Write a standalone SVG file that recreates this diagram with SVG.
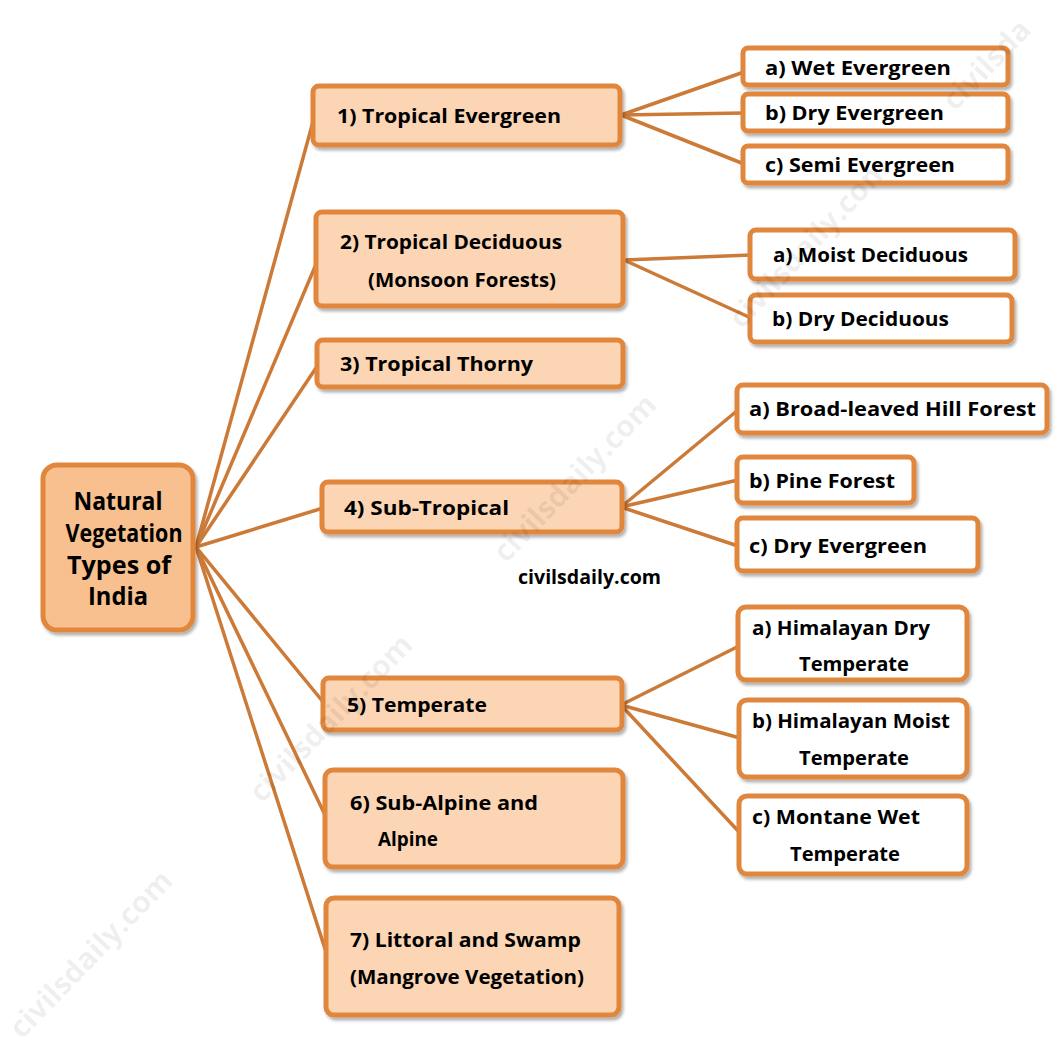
<svg xmlns="http://www.w3.org/2000/svg" width="1063" height="1060" viewBox="0 0 1063 1060">
<defs>
<filter id="sh" x="-10%" y="-10%" width="120%" height="130%">
<feDropShadow dx="2" dy="3" stdDeviation="1.5" flood-color="#000" flood-opacity="0.3"/>
</filter>
<style>
.root{fill:#F8C08E;stroke:#E0873D;stroke-width:5;filter:url(#sh)}
.l1{fill:#FBD5B4;stroke:#E0873D;stroke-width:5;filter:url(#sh)}
.l2{fill:#FFFFFF;stroke:#E0873D;stroke-width:5;filter:url(#sh)}
.t{font-family:"Open Sans","DejaVu Sans",sans-serif;font-weight:bold;font-size:20px;fill:#000}
.rt{font-family:"Open Sans","DejaVu Sans",sans-serif;font-weight:bold;font-size:25px;fill:#000;text-anchor:middle}
.conn line{stroke:#CC7A38;stroke-width:3.5;stroke-linecap:round}
.wm{font-family:"Open Sans","DejaVu Sans",sans-serif;font-weight:bold;font-size:30px;fill:#000;fill-opacity:0.07}
</style>
</defs>
<rect width="1063" height="1060" fill="#FFFFFF"/>

<g id="connectors" class="conn">
<line x1="196" y1="547" x2="314" y2="118"/>
<line x1="196" y1="547" x2="317" y2="262"/>
<line x1="196" y1="547" x2="318" y2="365"/>
<line x1="196" y1="547" x2="323" y2="508"/>
<line x1="196" y1="547" x2="324" y2="703"/>
<line x1="196" y1="547" x2="326" y2="817"/>
<line x1="196" y1="547" x2="327" y2="955"/>
<line x1="621" y1="115" x2="744" y2="72"/>
<line x1="621" y1="115" x2="744" y2="113"/>
<line x1="621" y1="115" x2="744" y2="164"/>
<line x1="624" y1="260" x2="751" y2="255"/>
<line x1="624" y1="260" x2="751" y2="318"/>
<line x1="621" y1="507" x2="738" y2="410"/>
<line x1="621" y1="507" x2="738" y2="480"/>
<line x1="621" y1="507" x2="738" y2="546"/>
<line x1="621" y1="705" x2="739" y2="646"/>
<line x1="621" y1="705" x2="740" y2="738"/>
<line x1="621" y1="705" x2="740" y2="833"/>
</g>

<g id="root">
<rect class="root" x="43" y="465" width="150" height="165" rx="14"/>
<text class="rt" x="118" y="510" textLength="89" lengthAdjust="spacingAndGlyphs">Natural</text>
<text class="rt" x="124" y="542" textLength="117" lengthAdjust="spacingAndGlyphs">Vegetation</text>
<text class="rt" x="119" y="574" textLength="104" lengthAdjust="spacingAndGlyphs">Types of</text>
<text class="rt" x="118" y="605" textLength="60" lengthAdjust="spacingAndGlyphs">India</text>
</g>

<g id="n1">
<rect class="l1" x="313" y="86" width="307" height="59" rx="6"/>
<text class="t" x="337" y="123" textLength="224" lengthAdjust="spacingAndGlyphs">1) Tropical Evergreen</text>
</g>
<g id="n2">
<rect class="l1" x="316" y="212" width="307" height="94" rx="6"/>
<text class="t" x="340" y="249" textLength="222" lengthAdjust="spacingAndGlyphs">2) Tropical Deciduous</text>
<text class="t" x="368" y="287" textLength="188" lengthAdjust="spacingAndGlyphs">(Monsoon Forests)</text>
</g>
<g id="n3">
<rect class="l1" x="317" y="340" width="306" height="47" rx="6"/>
<text class="t" x="340" y="371" textLength="193" lengthAdjust="spacingAndGlyphs">3) Tropical Thorny</text>
</g>
<g id="n4">
<rect class="l1" x="322" y="482" width="300" height="50" rx="6"/>
<text class="t" x="344" y="515" textLength="165" lengthAdjust="spacingAndGlyphs">4) Sub-Tropical</text>
</g>
<g id="n5">
<rect class="l1" x="323" y="678" width="299" height="52" rx="6"/>
<text class="t" x="347" y="712" textLength="140" lengthAdjust="spacingAndGlyphs">5) Temperate</text>
</g>
<g id="n6">
<rect class="l1" x="325" y="770" width="298" height="97" rx="8"/>
<text class="t" x="350" y="810" textLength="188" lengthAdjust="spacingAndGlyphs">6) Sub-Alpine and</text>
<text class="t" x="378" y="846" textLength="60" lengthAdjust="spacingAndGlyphs">Alpine</text>
</g>
<g id="n7">
<rect class="l1" x="326" y="898" width="293" height="117" rx="8"/>
<text class="t" x="350" y="947" textLength="231" lengthAdjust="spacingAndGlyphs">7) Littoral and Swamp</text>
<text class="t" x="350" y="984" textLength="234" lengthAdjust="spacingAndGlyphs">(Mangrove Vegetation)</text>
</g>

<g id="n1a">
<rect class="l2" x="743" y="48" width="265" height="37" rx="5"/>
<text class="t" x="765" y="75" textLength="186" lengthAdjust="spacingAndGlyphs">a) Wet Evergreen</text>
</g>
<g id="n1b">
<rect class="l2" x="743" y="94" width="265" height="37" rx="5"/>
<text class="t" x="765" y="120" textLength="179" lengthAdjust="spacingAndGlyphs">b) Dry Evergreen</text>
</g>
<g id="n1c">
<rect class="l2" x="743" y="146" width="265" height="37" rx="5"/>
<text class="t" x="765" y="172" textLength="190" lengthAdjust="spacingAndGlyphs">c) Semi Evergreen</text>
</g>
<g id="n2a">
<rect class="l2" x="750" y="230" width="265" height="49" rx="6"/>
<text class="t" x="773" y="262" textLength="195" lengthAdjust="spacingAndGlyphs">a) Moist Deciduous</text>
</g>
<g id="n2b">
<rect class="l2" x="750" y="295" width="262" height="47" rx="6"/>
<text class="t" x="772" y="326" textLength="177" lengthAdjust="spacingAndGlyphs">b) Dry Deciduous</text>
</g>
<g id="n4a">
<rect class="l2" x="737" y="385" width="310" height="48" rx="6"/>
<text class="t" x="749" y="416" textLength="287" lengthAdjust="spacingAndGlyphs">a) Broad-leaved Hill Forest</text>
</g>
<g id="n4b">
<rect class="l2" x="737" y="457" width="177" height="46" rx="6"/>
<text class="t" x="749" y="488" textLength="146" lengthAdjust="spacingAndGlyphs">b) Pine Forest</text>
</g>
<g id="n4c">
<rect class="l2" x="737" y="518" width="241" height="53" rx="6"/>
<text class="t" x="749" y="553" textLength="178" lengthAdjust="spacingAndGlyphs">c) Dry Evergreen</text>
</g>
<g id="n5a">
<rect class="l2" x="738" y="607" width="229" height="73" rx="8"/>
<text class="t" x="752" y="635" textLength="178" lengthAdjust="spacingAndGlyphs">a) Himalayan Dry</text>
<text class="t" x="799" y="671" textLength="110" lengthAdjust="spacingAndGlyphs">Temperate</text>
</g>
<g id="n5b">
<rect class="l2" x="739" y="700" width="228" height="77" rx="8"/>
<text class="t" x="752" y="728" textLength="198" lengthAdjust="spacingAndGlyphs">b) Himalayan Moist</text>
<text class="t" x="799" y="765" textLength="110" lengthAdjust="spacingAndGlyphs">Temperate</text>
</g>
<g id="n5c">
<rect class="l2" x="739" y="796" width="228" height="78" rx="8"/>
<text class="t" x="752" y="824" textLength="168" lengthAdjust="spacingAndGlyphs">c) Montane Wet</text>
<text class="t" x="790" y="861" textLength="110" lengthAdjust="spacingAndGlyphs">Temperate</text>
</g>

<text class="t" x="518" y="584" textLength="143" lengthAdjust="spacingAndGlyphs">civilsdaily.com</text>

<g id="watermarks">
<text class="wm" transform="translate(22,1040) rotate(-46)">civilsdaily.com</text>
<text class="wm" transform="translate(262,804) rotate(-46)">civilsdaily.com</text>
<text class="wm" transform="translate(506,564) rotate(-46)">civilsdaily.com</text>
<text class="wm" transform="translate(742,330) rotate(-47)">civilsdaily.com</text>
<text class="wm" transform="translate(955,112) rotate(-46)">civilsda</text>
</g>
</svg>
